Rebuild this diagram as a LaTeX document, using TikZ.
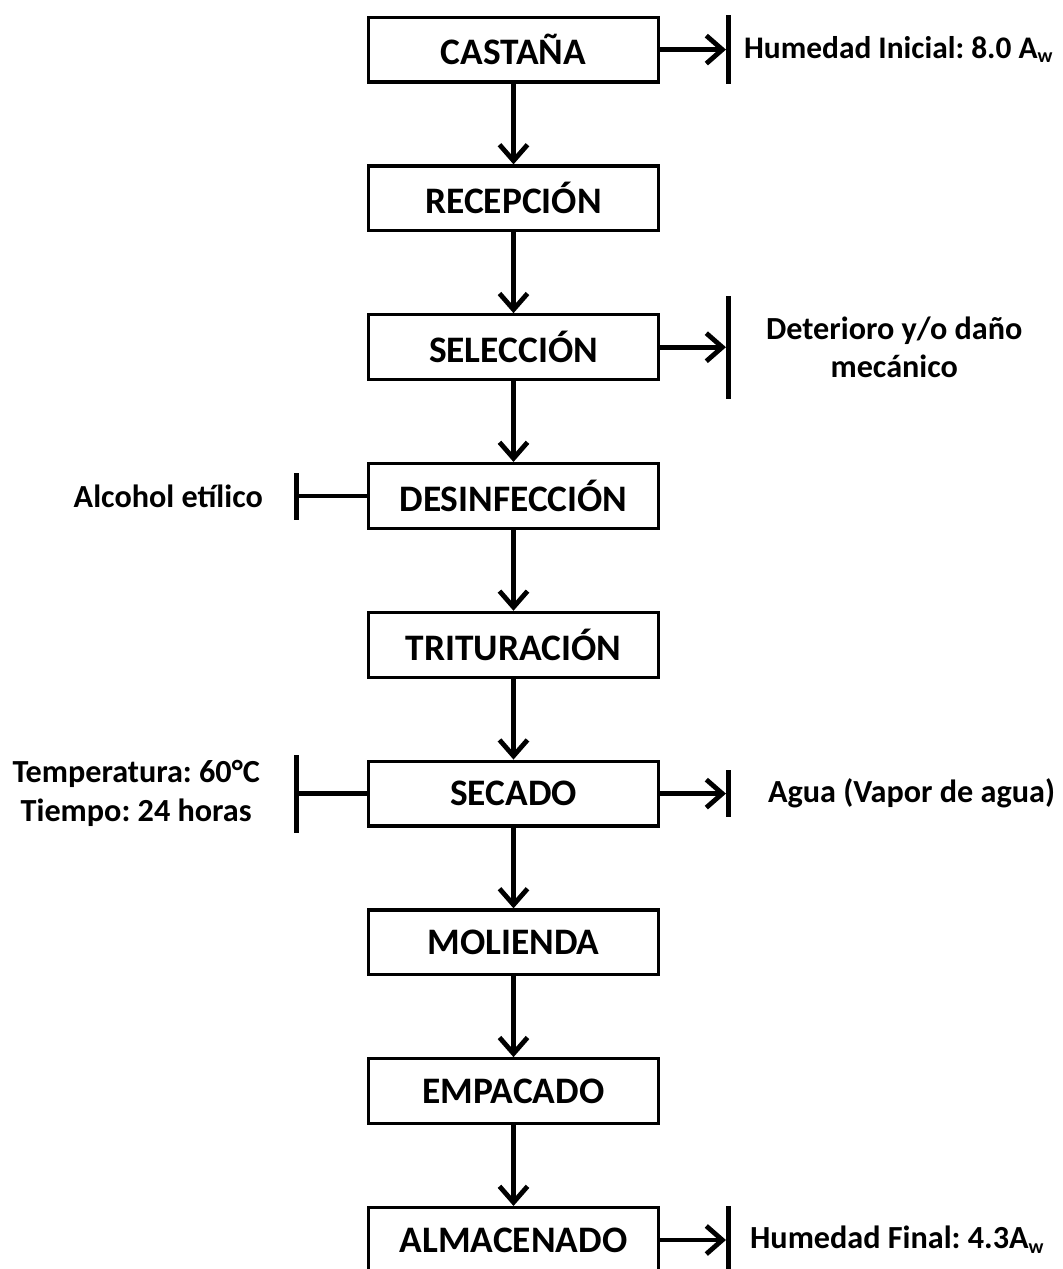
\documentclass[tikz,border=0pt]{standalone}
\usepackage{fontspec}
\setmainfont{Carlito}
\usepackage{tikz}
\usetikzlibrary{positioning,arrows.meta}
\frenchspacing
\newcommand{\subw}{\raisebox{-0.15em}{\fontsize{10}{10}\selectfont w}}
\tikzset{
  blk/.style ={draw, rectangle, line width=1.65pt, align=center, minimum width=144.8pt, minimum height=32.4pt, inner sep=0pt, font=\bfseries\fontsize{18.7}{22}\selectfont},
  bar/.style ={rectangle, fill=black, inner sep=0pt, minimum width=2.5pt},
  lbl/.style ={align=center, inner sep=0pt, font=\bfseries\fontsize{16.1}{19.3}\selectfont},
  arr/.style ={-{Straight Barb[length=8pt, width=14pt]}, line width=2.4pt},
  lnk/.style ={line width=2.4pt},
}

\begin{document}
\begin{tikzpicture}[node distance=40.35pt]
  \useasboundingbox (0,0) rectangle (531pt,-634.5pt);
  % main line
  \node[blk] (cast) at (256.75pt,-24.8pt) {CASTAÑA};
  \node[blk, below=of cast]  (recep) {RECEPCIÓN};
  \node[blk, below=of recep] (selec) {SELECCIÓN};
  \node[blk, below=of selec] (desin) {DESINFECCIÓN};
  \node[blk, below=of desin] (trit)  {TRITURACIÓN};
  \node[blk, below=of trit]  (sec)   {SECADO};
  \node[blk, below=of sec]   (mol)   {MOLIENDA};
  \node[blk, below=of mol]   (emp)   {EMPACADO};
  \node[blk, below=of emp]   (alm)   {ALMACENADO};

  % bars and side texts
  \node[bar, minimum height=34.5pt, right=33pt of cast] (bcast) {};
  \node[lbl, font=\bfseries\fontsize{15.7}{19}\selectfont, right=6pt of bcast] (hini) {Humedad Inicial: 8.0 A\subw};
  \node[bar, minimum height=51.5pt, right=33pt of selec] (bselec) {};
  \node[lbl, right=17pt of bselec] (det) {Deterioro y/o daño\\mecánico};
  \node[bar, minimum height=23.5pt, left=34pt of desin] (bdesin) {};
  \node[lbl, left=15pt of bdesin] (alc) {Alcohol etílico};
  \node[bar, minimum height=39pt, left=34pt of sec] (bsecl) {};
  \node[lbl, left=16.5pt of bsecl] (temp) {Temperatura: 60°C\\Tiempo: 24 horas};
  \node[bar, minimum height=23.5pt, right=33pt of sec] (bsecr) {};
  \node[lbl, right=18pt of bsecr] (agua) {Agua (Vapor de agua)};
  \node[bar, minimum height=34pt, right=33pt of alm] (balm) {};
  \node[lbl, right=9pt of balm] (hfin) {Humedad Final: 4.3A\subw};

  \draw[arr] (cast) -- (recep);
  \draw[arr] (recep) -- (selec);
  \draw[arr] (selec) -- (desin);
  \draw[arr] (desin) -- (trit);
  \draw[arr] (trit) -- (sec);
  \draw[arr] (sec) -- (mol);
  \draw[arr] (mol) -- (emp);
  \draw[arr] (emp) -- (alm);

  \draw[arr] (cast) -- (bcast);
  \draw[arr] (selec) -- (bselec);
  \draw[lnk] (bdesin) -- (desin);
  \draw[lnk] (bsecl) -- (sec);
  \draw[arr] (sec) -- (bsecr);
  \draw[arr] (alm) -- (balm);
\end{tikzpicture}
\end{document}
